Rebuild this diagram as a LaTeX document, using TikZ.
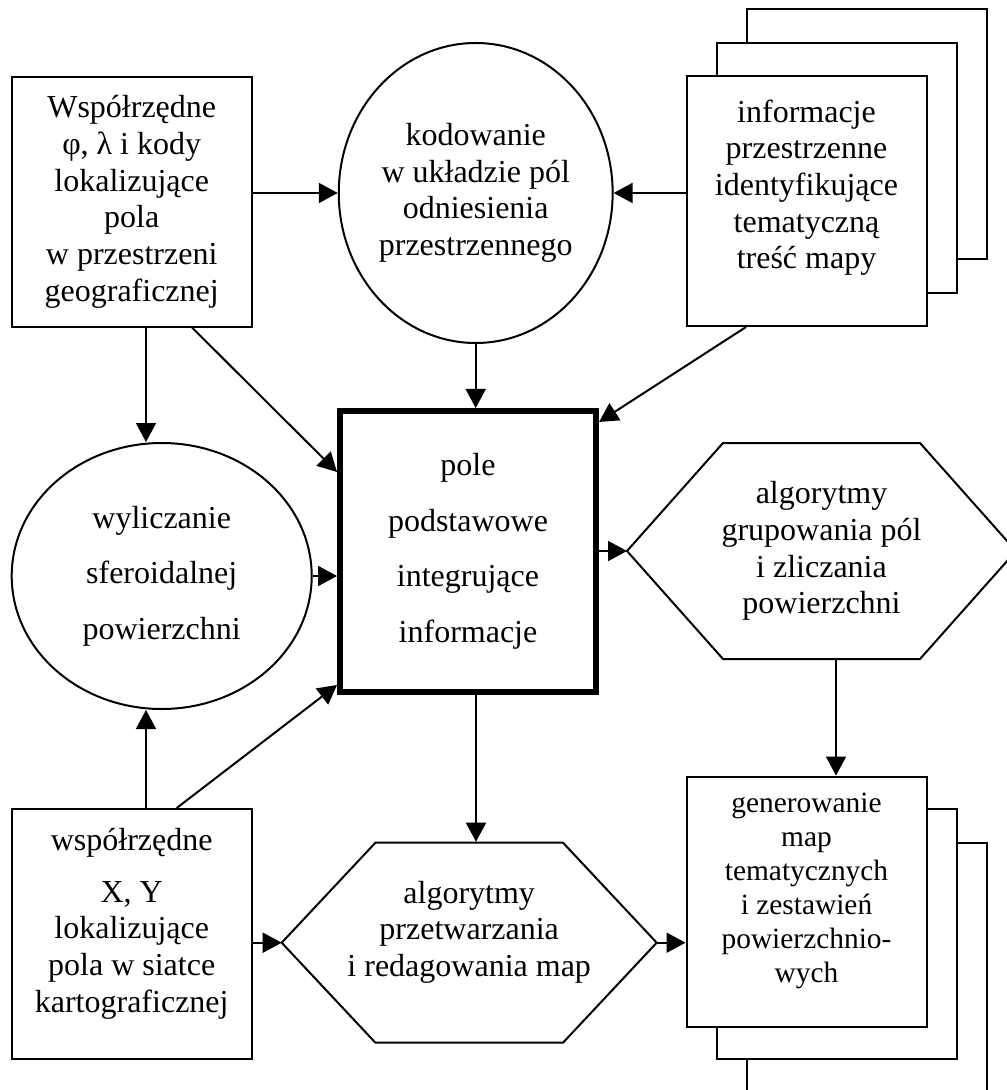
\documentclass[tikz,border=0pt]{standalone}
\usepackage{fontspec}
\setmainfont{Liberation Serif}
\usepackage{tikz}
\usetikzlibrary{arrows.meta,calc,shapes.geometric}
\newcommand{\boxfont}{\fontsize{16pt}{18.35pt}\selectfont}
\newcommand{\widefont}{\fontsize{16pt}{27.75pt}\selectfont}
\newcommand{\stackfont}{\fontsize{14.7pt}{17pt}\selectfont}

\begin{document}
\begin{tikzpicture}[x=0.5pt,y=-0.5pt,line width=1pt,>={Triangle[length=9.5pt,width=10pt]},
    box/.style={draw,fill=white,minimum width=120pt,minimum height=125pt,inner sep=0pt,align=center,font=\boxfont},
    oval/.style={draw,ellipse,inner sep=0pt,align=center,font=\boxfont},
    hexa/.style={inner sep=0pt,align=center,font=\boxfont}]
    \useasboundingbox (0,0) rectangle (1006,1090);
    \node[box] (A) at (131.7,201.7) {Współrzędne\\ φ, λ i kody\\ lokalizujące\\ pola\\ w przestrzeni\\ geograficznej};
    \node[oval,minimum width=135pt,minimum height=150pt] (B) at (475.7,193) {kodowanie\\ w układzie pól\\ odniesienia\\ przestrzennego};
    \node[box] (C3) at (866.5,134.5) {};
    \node[box] (C2) at (836.5,168) {};
    \node[box] (C) at (806.5,201) {informacje\\ przestrzenne\\ identyfikujące\\ tematyczną\\ treść mapy\\[-7pt] \strut};
    \node[oval,minimum width=150pt,minimum height=133pt,font=\widefont] (E) at (161.7,576) {wyliczanie\\ sferoidalnej\\ powierzchni};
    \node[box,line width=3pt,minimum width=128pt,minimum height=140.5pt,font=\widefont] (D) at (468,551.5) {pole\\ podstawowe\\ integrujące\\ informacje};
    \node[hexa,minimum width=98.5pt,minimum height=108pt] (F) at (821.5,551) {algorytmy\\ grupowania pól\\ i zliczania\\ powierzchni};
    \coordinate (Fl) at ($(F)+(-194.5,0)$);
    \coordinate (Fr) at ($(F)+(194.5,0)$);
    \draw ($(F)+(-98.5,-108)$) -- ($(F)+(98.5,-108)$) -- (Fr) -- ($(F)+(98.5,108)$) -- ($(F)+(-98.5,108)$) -- (Fl) -- cycle;
    \node[box] (G) at (131.7,934) {współrzędne\\[7.5pt] X, Y\\ lokalizujące\\ pola w siatce\\ kartograficznej\\[-10pt] \strut};
    \node[hexa,minimum width=93.8pt,minimum height=100pt] (H) at (469.2,942.7) {algorytmy\\ przetwarzania\\ i redagowania map\\[-10pt] \strut};
    \coordinate (Hl) at ($(H)+(-187.5,0)$);
    \coordinate (Hr) at ($(H)+(187.5,0)$);
    \draw ($(H)+(-93.8,-100)$) -- ($(H)+(93.8,-100)$) -- (Hr) -- ($(H)+(93.8,100)$) -- ($(H)+(-93.8,100)$) -- (Hl) -- cycle;
    \node[box] (I3) at (866.5,968) {};
    \node[box] (I2) at (836.5,934) {};
    \node[box,font=\stackfont] (I) at (806.5,901.5) {generowanie\\ map\\ tematycznych\\ i zestawień\\ powierzchnio-\\ wych\\[-8pt] \strut};
    \draw[->] (A.east |- B.west) -- (B.west);
    \draw[->] (C.west |- B.east) -- (B.east);
    \draw[->] (B.south) -- (B.south |- D.north);
    \draw[->] ($(C.south)!0.5!(C.south west)$) -- ($(D.north east)+(0,14)$);
    \draw[->] ($(A.south)+(14.3,0)$) coordinate (a1) -- (a1 |- E.north);
    \draw[->] ($(A.south)!0.5!(A.south east)$) -- ($(D.north west)+(0,64)$);
    \draw[->] (E.east) -- (E.east -| D.west);
    \draw[->] ($(G.north)+(14.3,0)$) coordinate (g1) -- (g1 |- E.south);
    \draw[->] ($(G.north)+(45,0)$) -- ($(D.south west)+(0,-10)$);
    \draw[->] (Fl -| D.east) -- (Fl);
    \draw[->] ($(F.south)+(14.5,0)$) coordinate (f1) -- (f1 |- I.north);
    \draw[->] ($(D.south)+(8,0)$) coordinate (d1) -- (d1 |- H.north);
    \draw[->] (G.east |- Hl) -- (Hl);
    \draw[->] (Hr) -- (Hr -| I.west);
\end{tikzpicture}
\end{document}
